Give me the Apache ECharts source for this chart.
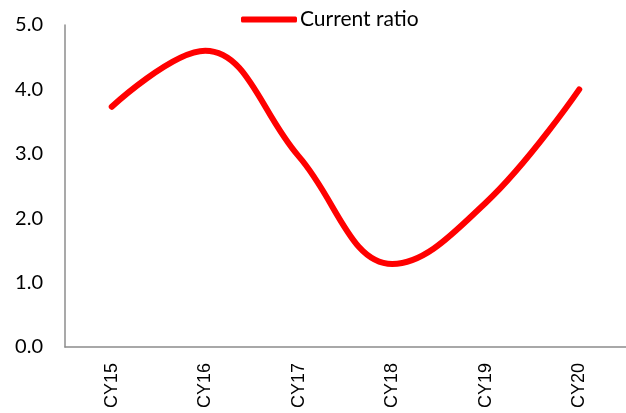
<!DOCTYPE html>
<html>
<head>
<meta charset="utf-8">
<script src="https://cdn.jsdelivr.net/npm/echarts@6/dist/echarts.min.js"></script>
<style>
  html, body { margin: 0; padding: 0; background: #fff; }
  #chart { width: 626px; height: 413px; }
</style>
</head>
<body>
<div id="chart"></div>
<script>
// Current ratio by calendar year
const years = ['CY15', 'CY16', 'CY17', 'CY18', 'CY19', 'CY20'];
const currentRatio = [3.73, 4.6, 2.96, 1.29, 2.24, 4.0];
const yTicks = [0, 1, 2, 3, 4, 5];

const chart = echarts.init(document.getElementById('chart'), null, { renderer: 'canvas' });

chart.setOption({
  animation: false,
  backgroundColor: '#ffffff',
  grid: { left: 65, right: -3, top: 25, bottom: 66, containLabel: false },
  legend: {
    top: 4,
    left: 236,
    icon: 'roundRect',
    itemWidth: 56,
    itemHeight: 6,
    itemGap: 4,
    textStyle: { fontFamily: 'Lato', fontSize: 21, color: '#000', padding: [0, 0, 0, -2] },
    data: ['Current ratio']
  },
  xAxis: {
    type: 'category',
    data: years,
    boundaryGap: true,
    axisLine: { lineStyle: { color: '#8c8c8c', width: 1.5 } },
    axisTick: { show: false },
    axisLabel: {
      rotate: 90,
      margin: 16,
      fontFamily: 'Liberation Sans',
      fontSize: 18,
      color: '#000'
    },
    splitLine: { show: false }
  },
  yAxis: {
    type: 'value',
    min: yTicks[0],
    max: yTicks[yTicks.length - 1],
    interval: 1,
    axisLine: { show: true, lineStyle: { color: '#8c8c8c', width: 1.5 } },
    axisTick: { show: false },
    splitLine: { show: false },
    axisLabel: {
      margin: 22,
      fontFamily: 'Lato',
      fontSize: 20,
      color: '#000',
      formatter: v => v.toFixed(1)
    }
  },
  series: [{
    name: 'Current ratio',
    type: 'line',
    data: currentRatio,
    smooth: 0.4,
    symbol: 'none',
    lineStyle: { color: '#ff0000', width: 6, cap: 'round' },
    itemStyle: { color: '#ff0000' }
  }]
});
</script>
</body>
</html>
